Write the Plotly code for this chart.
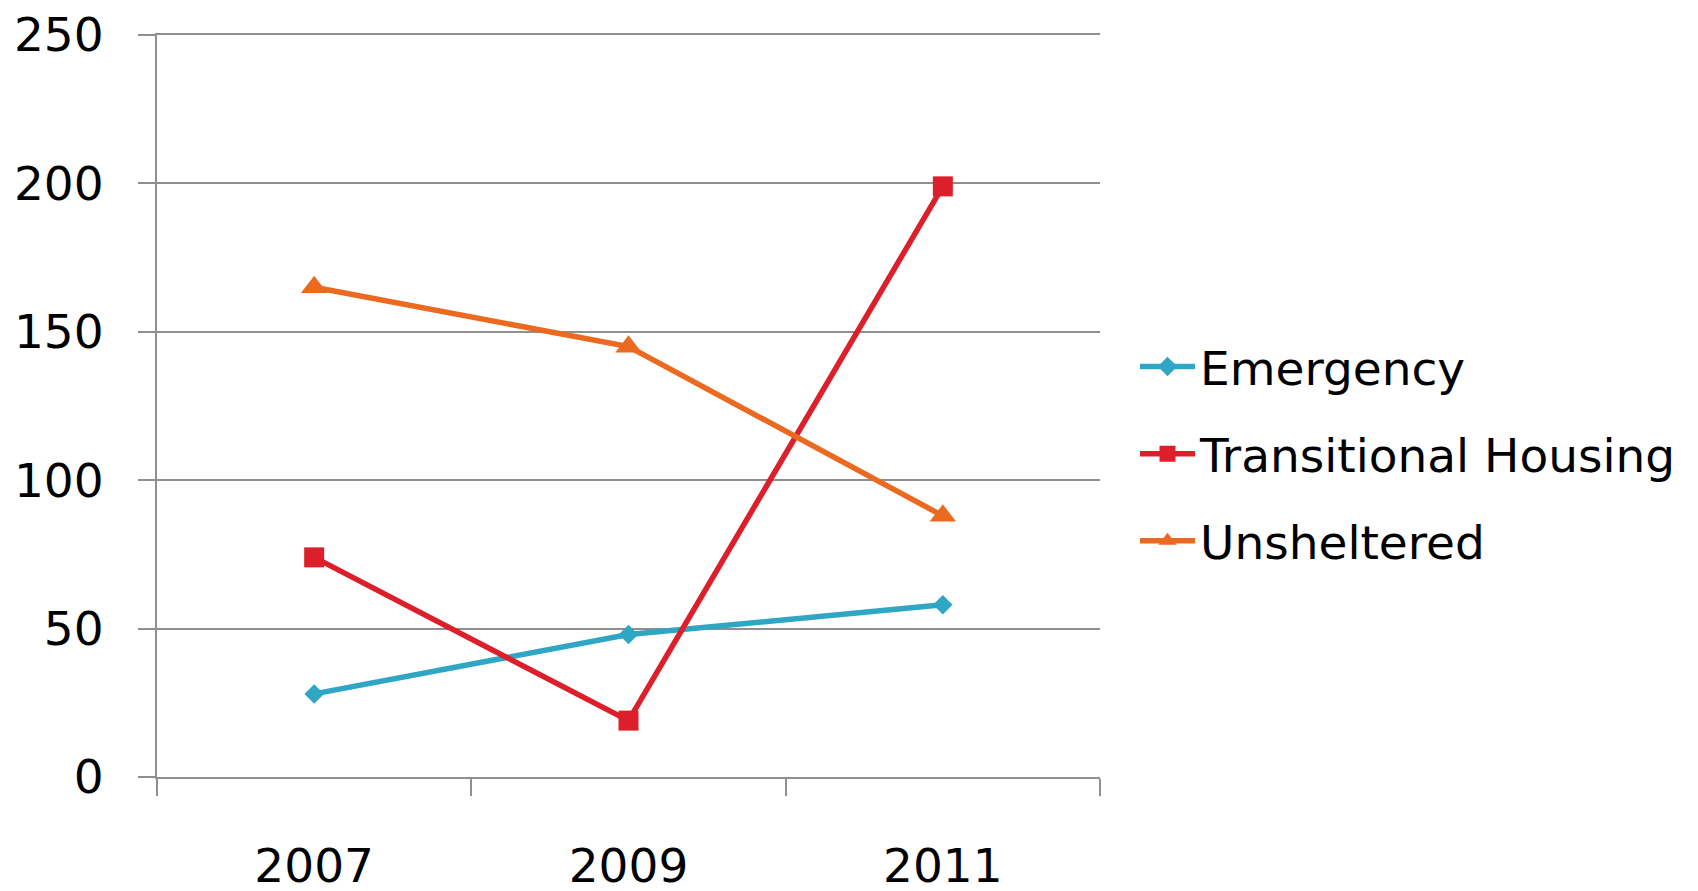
import plotly.graph_objects as go

years = ["2007", "2009", "2011"]
emergency = [28, 48, 58]
transitional = [74, 19, 199]
unsheltered = [165, 145, 88]
y_ticks = [0, 50, 100, 150, 200, 250]

series = [
    ("Emergency", emergency, "#2ea6c4", "diamond", 15),
    ("Transitional Housing", transitional, "#dd1f2b", "square", 20),
    ("Unsheltered", unsheltered, "#eb6a1f", "triangle-up", 23),
]

FONT = "DejaVu Sans"
GRID = "#8f8f8f"

fig = go.Figure()
for i, (name, vals, color, sym, size) in enumerate(series):
    fig.add_trace(go.Scatter(
        x=years, y=vals, name=name, mode="lines+markers",
        line=dict(color=color, width=5.5),
        marker=dict(symbol=sym, size=size, color=color),
        legendgroup=f"g{i}",
    ))

# page body has an 8px margin; plot area target (window px): x 157..1100, y 35..777
OFF = 8
L, R, T, B = 157 - OFF, 1698 - (1100 - OFF), 35 - OFF, 891 - (777 - OFF)
fig.update_layout(
    width=1698, height=891,
    margin=dict(l=L, r=R, t=T, b=B, autoexpand=False),
    paper_bgcolor="white", plot_bgcolor="white",
    font=dict(family=FONT, size=47, color="black"),
    showlegend=True,
    legend=dict(
        x=(1135 - 157) / (1100 - 157), xanchor="left",
        y=(777 - 454) / (777 - 35), yanchor="middle",
        xref="paper", yref="paper",
        traceorder="grouped", tracegroupgap=23,
        itemwidth=55,
        font=dict(family=FONT, size=47, color="black"),
        bgcolor="rgba(0,0,0,0)",
    ),
    xaxis=dict(
        type="category", range=[-0.5, 2.5],
        showgrid=False, showline=True, linecolor=GRID, linewidth=2, mirror=True,
        ticks="outside", tickson="boundaries", ticklen=17, tickwidth=2, tickcolor=GRID,
        ticklabelstandoff=47, ticklabeloverflow="allow",
        tickfont=dict(family=FONT, size=47, color="black"),
        automargin=False, zeroline=False,
    ),
    yaxis=dict(
        range=[0, 250], tickvals=y_ticks, ticktext=[str(v) for v in y_ticks],
        showgrid=True, gridcolor=GRID, gridwidth=2,
        showline=True, linecolor=GRID, linewidth=2,
        ticks="outside", ticklen=17, tickwidth=2, tickcolor=GRID,
        ticklabelstandoff=25, ticklabeloverflow="allow",
        tickfont=dict(family=FONT, size=47, color="black"),
        automargin=False, zeroline=False,
    ),
)

fig.write_html("out.html")
